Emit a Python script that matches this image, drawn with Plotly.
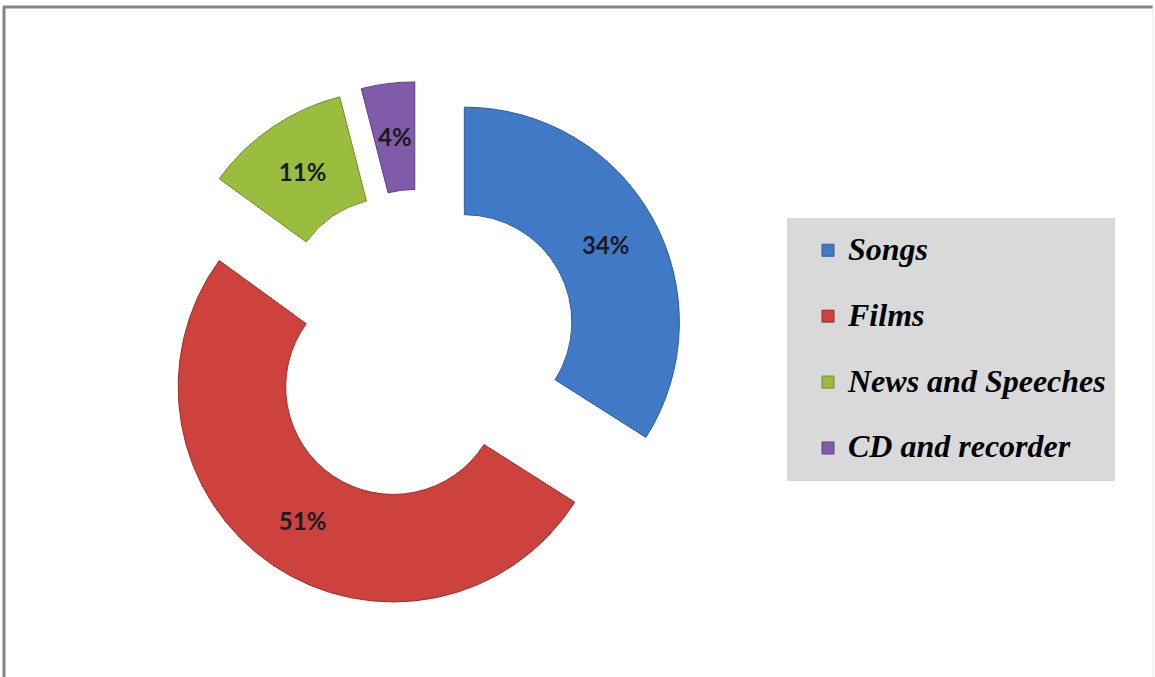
import math
import plotly.graph_objects as go

categories = ["Songs", "Films", "News and Speeches", "CD and recorder"]
values = [34, 51, 11, 4]
colors = ["#4079c6", "#cd423d", "#9bbd3f", "#7f5ba9"]
edge_colors = ["#2f5d99", "#9a2e2a", "#728c2c", "#5c4080"]

W, H = 1155, 677
DOM_X = [0.1355, 0.5935]
DOM_Y = [0.0982, 0.8796]
PULL = 0.23
HOLE = 0.5

# slices whose percentage is written as an annotation at mid-ring
# (plotly pushes text of very thin slices to the outer edge)
thin = [v / sum(values) < 0.06 for v in values]

# legend labels: second (blank) line gives the wide row spacing of the original
legend_labels = ["<span style='font-size:32px'>%s</span><br> " % c for c in categories]

fig = go.Figure(
    go.Pie(
        labels=legend_labels,
        values=values,
        sort=False,
        direction="clockwise",
        rotation=0,
        hole=HOLE,
        pull=[PULL] * len(values),
        marker=dict(colors=colors, line=dict(color=edge_colors, width=1)),
        texttemplate=["" if t else "%{percent:.0%}" for t in thin],
        textposition="inside",
        insidetextorientation="horizontal",
        textfont=dict(family="Lato", size=24, color="#1a1a24", weight="bold"),
        domain=dict(x=DOM_X, y=DOM_Y),
        hoverinfo="skip",
    )
)

# mid-ring label positions for thin slices, derived from the data and pie geometry
dw = (DOM_X[1] - DOM_X[0]) * W
dh = (DOM_Y[1] - DOM_Y[0]) * H
r = min(dw, dh) / (2 * (1 + PULL))
cx = (DOM_X[0] + DOM_X[1]) / 2 * W
cy = (DOM_Y[0] + DOM_Y[1]) / 2 * H  # from bottom
total = sum(values)
annotations = []
cum = 0
for v, t in zip(values, thin):
    mid = 2 * math.pi * (cum + v / 2) / total
    cum += v
    if not t:
        continue
    dist = PULL * r + r * (1 + HOLE) / 2
    px = cx + dist * math.sin(mid)
    py = cy + dist * math.cos(mid)
    annotations.append(dict(
        x=px / W, y=py / H, xref="paper", yref="paper",
        text="%d%%" % round(100 * v / total), showarrow=False,
        xanchor="center", yanchor="middle",
        font=dict(family="Lato", size=24, color="#1a1a24", weight="bold"),
    ))

fig.update_layout(
    width=W,
    height=H,
    margin=dict(l=0, r=0, t=0, b=0),
    paper_bgcolor="white",
    plot_bgcolor="white",
    uniformtext=dict(minsize=24, mode="show"),
    showlegend=True,
    annotations=annotations,
    legend=dict(
        x=808 / W,
        xanchor="left",
        y=1 - 228 / H,
        yanchor="top",
        bgcolor="rgba(0,0,0,0)",
        borderwidth=0,
        valign="top",
        font=dict(family="Liberation Serif", size=24.2, color="black", weight="bold", style="italic"),
        itemclick=False,
        itemdoubleclick=False,
    ),
    shapes=[
        dict(type="rect", xref="paper", yref="paper",
             x0=787 / W, x1=1115 / W, y0=1 - 481 / H, y1=1 - 218 / H,
             fillcolor="#d9d9d9", line=dict(width=0), layer="below"),
        dict(type="line", xref="paper", yref="paper",
             x0=3 / W, x1=1153 / W, y0=1 - 7 / H, y1=1 - 7 / H,
             line=dict(color="#858585", width=3)),
        dict(type="line", xref="paper", yref="paper",
             x0=4 / W, x1=4 / W, y0=1 - 6 / H, y1=-0.05,
             line=dict(color="#858585", width=3)),
        dict(type="line", xref="paper", yref="paper",
             x0=1153 / W, x1=1153 / W, y0=1 - 6 / H, y1=-0.05,
             line=dict(color="#e6e6e6", width=1)),
    ],
)

fig.write_html(
    "out.html",
    config={"displayModeBar": False},
    post_script="document.body.style.margin='0';document.body.style.overflow='hidden';",
)
